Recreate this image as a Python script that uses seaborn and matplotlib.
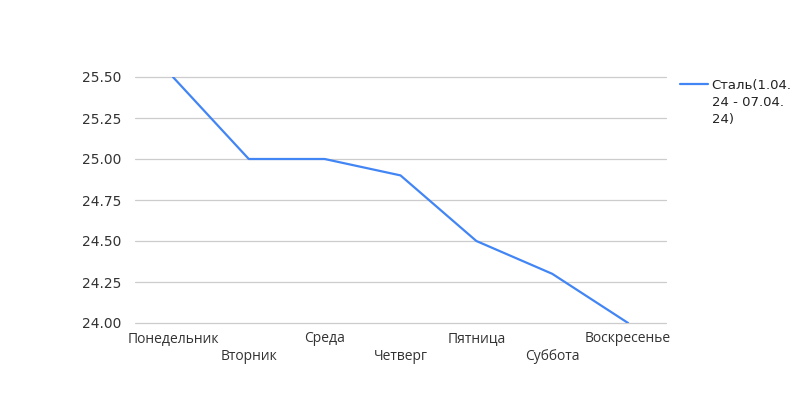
import matplotlib
matplotlib.use("Agg")
import matplotlib.pyplot as plt
import seaborn as sns
import pandas as pd

days = ["Понедельник", "Вторник", "Среда", "Четверг", "Пятница", "Суббота", "Воскресенье"]
values = [25.5, 25.0, 25.0, 24.9, 24.5, 24.3, 24.0]
series_label_lines = ["Сталь(1.04.", "24 - 07.04.", "24)"]
yticks = [24.0, 24.25, 24.5, 24.75, 25.0, 25.25, 25.5]

sns.set_theme(style="white")
plt.rcParams['font.family'] = ['DejaVu Sans']

df = pd.DataFrame({"day": days, "value": values, "x": range(len(days))})

fig = plt.figure(figsize=(8, 4), dpi=100)
ax = fig.add_axes([135/800, 1-323/400, (666-135)/800, (323-77)/400])

sns.lineplot(data=df, x="x", y="value", ax=ax, color="#4285F4", linewidth=1.6,
             label=series_label_lines[0])

ax.set_xlim(-0.5, len(days) - 0.5)
ax.set_ylim(24.0, 25.5)
ax.set_yticks(yticks)
ax.set_yticklabels([f"{v:.2f}" for v in yticks], fontsize=10, color="#333333")
ax.yaxis.grid(True, color="#cccccc", linewidth=0.9)
for gl in ax.get_ygridlines():
    gl.set_clip_on(False)
ax.xaxis.grid(False)
ax.set_axisbelow(True)
for s in ax.spines.values():
    s.set_visible(False)
ax.tick_params(axis="y", length=0, pad=10)
ax.set_xticks(range(len(days)))
ax.set_xticklabels([])
ax.tick_params(axis="x", length=0)
for i, d in enumerate(days):
    fig.text((135 + (i + 0.5) * (666-135)/7)/800, 1 - (339 if i % 2 == 0 else 356)/400, d,
             ha="center", va="center", fontsize=10, color="#333333",
             family=["Open Sans", "DejaVu Sans"])
ax.set_xlabel("")
ax.set_ylabel("")

leg = ax.legend(loc="upper left", bbox_to_anchor=(680/800, 1 - 79/400),
                bbox_transform=fig.transFigure, frameon=False, fontsize=9.5,
                handlelength=2.1, handletextpad=0.3, borderaxespad=0, borderpad=0)
for t in leg.get_texts():
    t.set_color("#222222")

fig.canvas.draw()
bb = leg.get_texts()[0].get_window_extent()
x0 = bb.x0 / 800
ybase = bb.y0 / 400
for k, line in enumerate(series_label_lines[1:], start=1):
    fig.text(x0, ybase - k * 17/400, line, ha="left", va="bottom",
             fontsize=9.5, color="#222222")

fig.savefig("out.png", dpi=100, facecolor="white")
